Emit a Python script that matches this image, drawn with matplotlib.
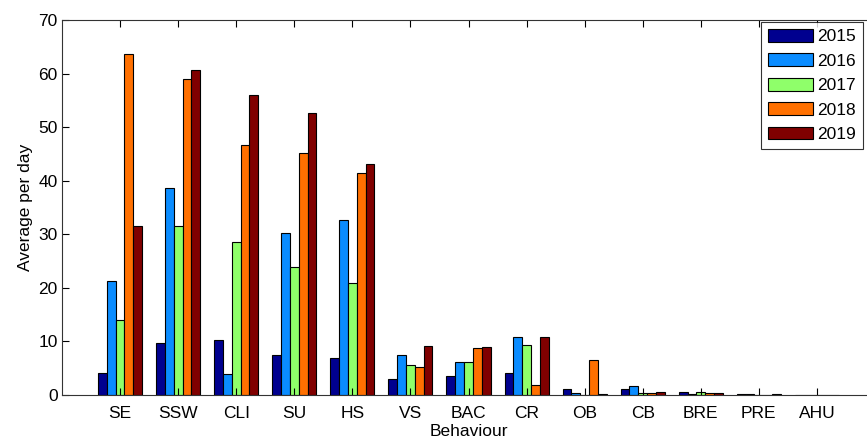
import matplotlib
matplotlib.use("Agg")
import matplotlib.pyplot as plt
import numpy as np

plt.rcParams['font.family'] = ['Liberation Sans', 'DejaVu Sans']

categories = ["SE", "SSW", "CLI", "SU", "HS", "VS", "BAC", "CR", "OB", "CB", "BRE", "PRE", "AHU"]
years = ["2015", "2016", "2017", "2018", "2019"]
v2015 = [4.1, 9.8, 10.2, 7.4, 6.9, 3.0, 3.6, 4.1, 1.2, 1.1, 0.6, 0.1, 0.0]
v2016 = [21.3, 38.7, 4.0, 30.2, 32.6, 7.4, 6.1, 10.9, 0.4, 1.7, 0.2, 0.1, 0.0]
v2017 = [14.0, 31.5, 28.5, 23.9, 21.0, 5.6, 6.2, 9.3, 0.0, 0.3, 0.6, 0.0, 0.0]
v2018 = [63.6, 59.0, 46.7, 45.2, 41.5, 5.2, 8.7, 1.9, 6.5, 0.3, 0.3, 0.0, 0.0]
v2019 = [31.5, 60.7, 56.0, 52.6, 43.2, 9.1, 8.9, 10.9, 0.2, 0.6, 0.3, 0.2, 0.0]
series = [v2015, v2016, v2017, v2018, v2019]
colors = ["#00008F", "#0A8CFF", "#8FFF6A", "#FF7000", "#800000"]

fs = 12.5
fig = plt.figure(figsize=(8.67, 4.41), dpi=100)
ax = fig.add_axes([62/867, 46/441, 813/867, 375/441])

x = np.arange(1, len(categories) + 1)
w = 0.152
for i, (vals, c, yr) in enumerate(zip(series, colors, years)):
    ax.bar(x + (i - 2) * w, vals, width=w, color=c, edgecolor="black",
           linewidth=0.8, label=yr)

ax.set_xlim(0, 14)
ax.set_ylim(0, 70)
ax.set_xticks(x)
ax.set_xticklabels(categories, fontsize=fs)
ax.set_yticks(np.arange(0, 71, 10))
ax.tick_params(axis='y', labelsize=fs, pad=3)
ax.tick_params(axis='x', pad=8)
ax.tick_params(direction='in', top=True, right=True, length=5, width=0.8)
for s in ax.spines.values():
    s.set_linewidth(0.8)
    s.set_color("#333333")
ax.set_xlabel("Behaviour", fontsize=fs, labelpad=2)
ax.set_ylabel("Average per day", fontsize=fs, labelpad=4)

leg = ax.legend(loc="upper left", bbox_to_anchor=(761/867, 1 - 22/441), bbox_transform=fig.transFigure,
                fontsize=fs, frameon=True, fancybox=False, edgecolor="black",
                handlelength=2.6, handleheight=0.75, handletextpad=0.25, borderpad=0.4,
                labelspacing=0.52, borderaxespad=0)
leg.get_frame().set_linewidth(0.8)

fig.savefig("out.png", dpi=100)
